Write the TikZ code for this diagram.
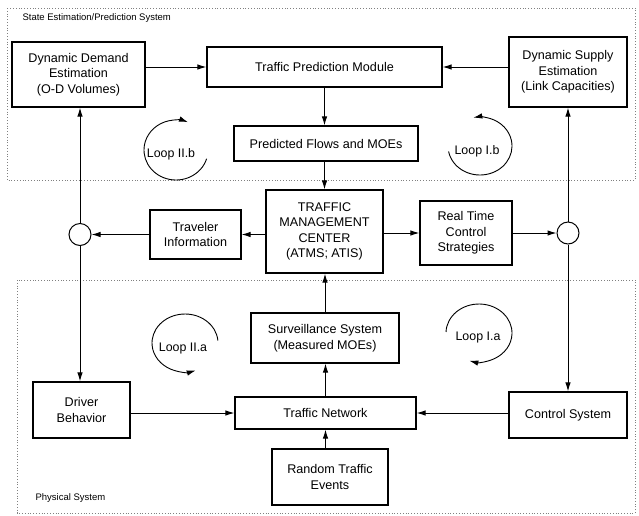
\documentclass[tikz,border=0pt]{standalone}
\usepackage{fontspec}
\setmainfont{Liberation Sans}
\usetikzlibrary{arrows.meta}
\tikzset{
    > = {Latex[length=9pt, width=5.5pt]},
    block/.style = {draw, line width=1.2pt, align=center, inner sep=0pt,
        font=\fontsize{12.6}{15.5}\selectfont},
    junction/.style = {draw, circle, line width=1pt, minimum size=22pt, inner sep=0pt},
    flow/.style = {->, line width=1pt},
    looparc/.style = {->, line width=0.9pt},
    region/.style = {draw=gray, dotted, line width=0.8pt},
    looplabel/.style = {font=\fontsize{12.4}{14}\selectfont},
    regionlabel/.style = {font=\fontsize{9.5}{11}\selectfont, anchor=west}
}

\begin{document}
\begin{tikzpicture}[x=1pt, y=-1pt]
    \useasboundingbox (0,0) rectangle (639,515);

    % regions
    \draw[region] (7,8) rectangle (635,180);
    \draw[region] (17,280) rectangle (635,513);
    \node[regionlabel] (estlabel) at (19,18) {State Estimation/Prediction System};
    \node[regionlabel] (physlabel) at (32,498) {Physical System};

    % blocks
    \node[block, minimum width=133pt, minimum height=65pt] (dde) at (78.5,74.5) {Dynamic Demand\\Estimation\\(O-D Volumes)};
    \node[block, minimum width=235pt, minimum height=40pt] (tpm) at (324.5,67) {Traffic Prediction Module};
    \node[block, minimum width=118pt, minimum height=70pt] (dse) at (568,72) {Dynamic Supply\\Estimation\\(Link Capacities)};
    \node[block, minimum width=184pt, minimum height=35pt] (pf) at (326,143.5) {Predicted Flows and MOEs};
    \node[block, minimum width=117pt, minimum height=83pt] (tmc) at (324.5,231.5) {TRAFFIC\\MANAGEMENT\\CENTER\\(ATMS; ATIS)};
    \node[block, minimum width=91pt, minimum height=49pt] (ti) at (195.5,234.5) {Traveler\\Information};
    \node[block, minimum width=92pt, minimum height=64pt] (rtcs) at (466,233) {Real Time\\Control\\Strategies};
    \node[junction] (cl) at (80,234.5) {};
    \node[junction] (cr) at (568,233) {};
    \node[block, minimum width=148pt, minimum height=50pt] (sur) at (325,338) {Surveillance System\\(Measured MOEs)};
    \node[block, minimum width=181pt, minimum height=32pt] (tn) at (325.5,413) {Traffic Network};
    \node[block, minimum width=116pt, minimum height=56pt] (rte) at (330,477) {Random Traffic\\Events};
    \node[block, minimum width=97pt, minimum height=56pt] (db) at (81.5,410) {Driver\\Behavior};
    \node[block, minimum width=118pt, minimum height=46pt] (cs) at (568,415) {Control System};

    % loops
    \node[looplabel] (l2b) at (171,154) {Loop II.b};
    \node[looplabel] (l1b) at (477,151) {Loop I.b};
    \node[looplabel] (l2a) at (183,349) {Loop II.a};
    \node[looplabel] (l1a) at (478,338) {Loop I.a};
    \draw[looparc] (176,150) ++(17:32 and 30) arc[start angle=17, end angle=292, x radius=32, y radius=30];
    \draw[looparc] (480,146) ++(-191:32 and 29) arc[start angle=-191, end angle=-462, x radius=32, y radius=29];
    \draw[looparc] (185,343) ++(-5:33 and 29) arc[start angle=-5, end angle=-289, x radius=33, y radius=29];
    \draw[looparc] (479,333) ++(-178:33 and 29) arc[start angle=-178, end angle=107, x radius=33, y radius=29];

    % connectors
    \draw[flow] (dde.east |- tpm.west) -- (tpm.west);
    \draw[flow] (dse.west |- tpm.east) -- (tpm.east);
    \draw[flow] (tpm.south) -- (tpm.south |- pf.north);
    \draw[flow] (tpm.south |- pf.south) -- (tpm.south |- tmc.north);
    \draw[flow] (tmc.west |- ti.east) -- (ti.east);
    \draw[flow] (ti.west) -- (ti.west -| cl.east);
    \draw[flow] (cl.north) -- (cl.north |- dde.south);
    \draw[flow] (cl.south) -- (cl.south |- db.north);
    \draw[flow] (tmc.east |- rtcs.west) -- (rtcs.west);
    \draw[flow] (rtcs.east) -- (rtcs.east -| cr.west);
    \draw[flow] (cr.north) -- (cr.north |- dse.south);
    \draw[flow] (cr.south) -- (cr.south |- cs.north);
    \draw[flow] (db.east |- tn.west) -- (tn.west);
    \draw[flow] (cs.west |- tn.east) -- (tn.east);
    \draw[flow] (tn.south |- rte.north) -- (tn.south);
    \draw[flow] (tn.north) -- (tn.north |- sur.south);
    \draw[flow] (sur.north) -- (sur.north |- tmc.south);
\end{tikzpicture}
\end{document}
